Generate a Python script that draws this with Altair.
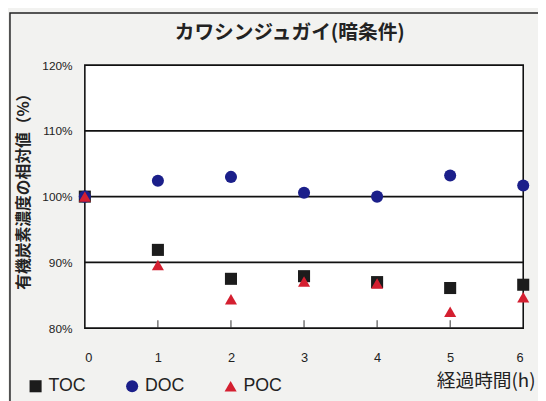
import altair as alt
import pandas as pd

hours = [0, 1, 2, 3, 4, 5, 6]
toc = [100.0, 91.9, 87.5, 87.9, 87.0, 86.1, 86.6]
doc = [100.0, 102.4, 103.0, 100.6, 100.0, 103.2, 101.7]
poc = [100.0, 89.6, 84.4, 87.1, 86.8, 82.5, 84.7]
series = ["TOC", "DOC", "POC"]
colors = ["#1c1c1c", "#1b1f8a", "#d41f30"]
shapes = ["square", "circle", "triangle-up"]
y_ticks = [80, 90, 100, 110, 120]
inner_ticks = [1, 2, 3, 4, 5]
title_text = "カワシンジュガイ(暗条件)"

rows = []
for name, vals in zip(series, [toc, doc, poc]):
    for h, v in zip(hours, vals):
        rows.append({"hour": h, "value": v, "series": name})
df = pd.DataFrame(rows)

W, H = 445, 267

x_scale = alt.Scale(domain=[0, 6], nice=False, zero=False)
y_scale = alt.Scale(domain=[80, 120], nice=False, zero=False)

frame = alt.Chart(pd.DataFrame({"k": [0]})).mark_rect(
    fill=None, stroke="#222", strokeWidth=1.5
).encode(
    x=alt.value(-76), x2=alt.value(470), y=alt.value(-53), y2=alt.value(360)
)

title = alt.Chart(pd.DataFrame({"t": [title_text]})).mark_text(
    font="Noto Sans CJK JP", fontSize=20, fontWeight="bold", color="#222",
    align="center", baseline="middle"
).encode(x=alt.value(208), y=alt.value(-32), text="t:N")

grid = alt.Chart(pd.DataFrame({"v": y_ticks[1:-1]})).mark_rule(
    color="#111", strokeWidth=1.6
).encode(y=alt.Y("v:Q", scale=y_scale))

ticks = alt.Chart(pd.DataFrame({"h": inner_ticks})).mark_rule(
    color="#333", strokeWidth=1
).encode(
    x=alt.X("h:Q", scale=x_scale),
    y=alt.datum(80, scale=y_scale),
    y2=alt.datum(81.2),
)

legend_cfg = dict(
    title=None,
    orient="none",
    direction="horizontal",
    legendX=-59,
    legendY=317,
    symbolSize=150,
    labelFontSize=18,
    labelFont="Liberation Sans",
    labelColor="#222",
    labelOffset=4,
    columnPadding=38,
    symbolStrokeWidth=0,
)

points = alt.Chart(df).mark_point(filled=True, opacity=1, size=150).encode(
    x=alt.X(
        "hour:Q",
        scale=x_scale,
        axis=alt.Axis(
            values=hours,
            format="d",
            grid=False,
            domain=False,
            ticks=False,
            labelPadding=24,
            labelFontSize=13,
            labelFont="Liberation Sans",
            labelColor="#222",
            title="経過時間(h)",
            titleFont="Noto Sans CJK JP",
            titleFontSize=19,
            titleFontWeight="normal",
            titleColor="#222",
            titleAlign="right",
            titleAnchor="end",
            titleX=457,
            titleY=53,
            titleBaseline="middle",
        ),
    ),
    y=alt.Y(
        "value:Q",
        scale=y_scale,
        axis=alt.Axis(
            values=y_ticks,
            labelExpr="datum.value + '%'",
            grid=False,
            domain=False,
            ticks=False,
            labelPadding=13,
            labelFontSize=12,
            labelFont="Liberation Sans Narrow, Liberation Sans",
            labelColor="#222",
            title="有機炭素濃度の相対値（%）",
            titleFont="Noto Sans CJK JP",
            titleFontSize=16,
            titleFontWeight="bold",
            titleColor="#222",
            titleX=-62,
            titleY=124,
            titleAngle=-90,
            titleBaseline="middle",
            titleAlign="center",
        ),
    ),
    color=alt.Color(
        "series:N",
        scale=alt.Scale(domain=series, range=colors),
        legend=alt.Legend(**legend_cfg),
    ),
    shape=alt.Shape(
        "series:N",
        scale=alt.Scale(domain=series, range=shapes),
        legend=alt.Legend(**legend_cfg),
    ),
)

chart = alt.layer(frame, title, grid, ticks, points).properties(
    width=W,
    height=H,
    autosize=alt.AutoSizeParams(type="none"),
    padding={"left": 78, "top": 55, "right": 15, "bottom": 71},
    background="#f2f2f0",
).configure_view(
    fill="white", stroke="#111", strokeWidth=1.6
)

chart.save("out.html", embed_options={"renderer": "svg", "actions": False})
